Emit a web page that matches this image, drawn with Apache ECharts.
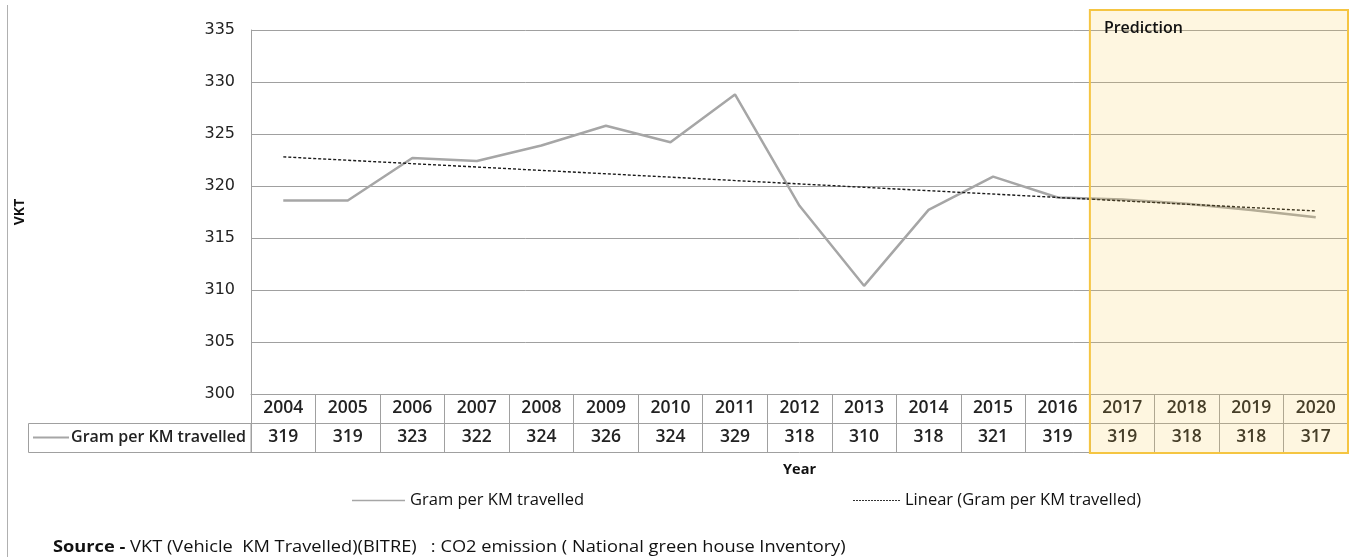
<!DOCTYPE html>
<html>
<head>
<meta charset="utf-8">
<script src="https://cdn.jsdelivr.net/npm/echarts@6/dist/echarts.min.js"></script>
<style>
  html, body { margin: 0; padding: 0; background: #fff; }
  #chart { width: 1354px; height: 557px; }
</style>
</head>
<body>
<div id="chart"></div>
<script>
// Grams of CO2 per vehicle kilometre travelled, 2004-2020 (2017 onwards predicted)
const years = ['2004', '2005', '2006', '2007', '2008', '2009', '2010', '2011', '2012',
               '2013', '2014', '2015', '2016', '2017', '2018', '2019', '2020'];
const gramPerKm = [318.6, 318.6, 322.7, 322.4, 323.9, 325.8, 324.2, 328.8, 318.1,
                   310.4, 317.7, 320.9, 318.9, 318.7, 318.3, 317.7, 317.0];
// Linear trend line end points (first and last year)
const trendYears = ['2004', '2020'];
const trendValues = [322.8, 317.6];
const predictionYears = ['2017', '2020'];
const yMin = 300, yMax = 335, yStep = 5;

const seriesName = 'Gram per KM travelled';
const trendName = 'Linear (Gram per KM travelled)';

const FONT = "'Open Sans', 'Noto Sans', sans-serif";
const GRID_COLOR = '#a0a0a0';
const LINE_COLOR = '#a6a6a6';

const GRID = { left: 251, right: 6, top: 30, bottom: 163 };
const ROW_H = 29;

// legend keys: a solid bar and a row of short dashes
const solidIcon = 'path://M0,0H40V1H0Z';
let dashPath = '';
for (let i = 0; i < 16; i++) dashPath += 'M' + (i * 3) + ',0h2v1h-2Z';
const dashedIcon = 'path://' + dashPath;

const chart = echarts.init(document.getElementById('chart'), null, { renderer: 'canvas' });

const cellLabel = {
  fontFamily: FONT, fontSize: 17.5, color: '#222', fontWeight: 600,
  verticalAlign: 'middle', margin: ROW_H / 2
};

chart.setOption({
  animation: false,
  backgroundColor: '#fff',
  grid: GRID,
  xAxis: [
    {
      type: 'category', data: years, position: 'bottom', boundaryGap: true,
      axisLine: { show: true, lineStyle: { color: GRID_COLOR, width: 1 } },
      axisTick: { show: true, inside: false, length: ROW_H * 2, lineStyle: { color: GRID_COLOR } },
      axisLabel: Object.assign({}, cellLabel)
    },
    {
      type: 'category', data: years, position: 'bottom', offset: ROW_H, boundaryGap: true,
      axisLine: { show: true, lineStyle: { color: GRID_COLOR, width: 1 } },
      axisTick: { show: false },
      axisLabel: Object.assign({}, cellLabel, {
        formatter: (v, i) => String(Math.round(gramPerKm[i]))
      })
    },
    {
      type: 'category', data: years, position: 'bottom', offset: ROW_H * 2, boundaryGap: true,
      axisLine: { show: true, lineStyle: { color: GRID_COLOR, width: 1 } },
      axisTick: { show: false },
      axisLabel: { show: false },
      name: 'Year', nameLocation: 'middle', nameGap: 10,
      nameTextStyle: { fontFamily: FONT, fontSize: 14.5, fontWeight: 'bold', color: '#111' }
    }
  ],
  yAxis: {
    type: 'value', min: yMin, max: yMax, interval: yStep,
    axisLine: { show: true, lineStyle: { color: GRID_COLOR } },
    axisTick: { show: false },
    splitLine: { show: true, lineStyle: { color: GRID_COLOR, width: 1 } },
    axisLabel: { fontFamily: "'DejaVu Sans', sans-serif", fontSize: 16, color: '#222', margin: 16 },
    name: 'VKT', nameLocation: 'middle', nameGap: 224, nameRotate: 90,
    nameTextStyle: { fontFamily: FONT, fontSize: 14, fontWeight: 'bold', color: '#111' }
  },
  legend: [
    {
      data: [{ name: seriesName, icon: solidIcon }], left: 352, top: 492, padding: 0,
      itemWidth: 53, itemHeight: 2, itemGap: 4,
      textStyle: { fontFamily: FONT, fontSize: 16.5, color: '#111', padding: [0, 0, 0, 0] }
    },
    {
      data: [{ name: trendName, icon: dashedIcon }], left: 853, top: 492, padding: 0,
      itemWidth: 47, itemHeight: 1.3, itemGap: 4,
      textStyle: { fontFamily: FONT, fontSize: 16.5, color: '#111', padding: [0, 0, 0, 0] }
    }
  ],
  series: [
    {
      name: seriesName, type: 'line', data: gramPerKm, symbol: 'none',
      lineStyle: { color: LINE_COLOR, width: 2.5 }, itemStyle: { color: LINE_COLOR },
      z: 3
    },
    {
      name: trendName, type: 'line', symbol: 'none',
      data: trendYears.map((y, i) => [y, trendValues[i]]),
      lineStyle: { color: '#1a1a1a', width: 1.4, type: [3, 2] }, itemStyle: { color: '#333' },
      z: 4
    }
  ]
});

// Decorations placed from the axis scale
const xOf = (cat) => chart.convertToPixel({ xAxisIndex: 0 }, cat);
const band = xOf(years[1]) - xOf(years[0]);
const tableTop = 557 - GRID.bottom;
const predLeft = xOf(predictionYears[0]) - band / 2;
const predRight = xOf(predictionYears[1]) + band / 2;

chart.setOption({
  graphic: [
    // outer frame edge
    { type: 'line', shape: { x1: 7.5, y1: 5, x2: 7.5, y2: 557 }, style: { stroke: '#b0b0b0', lineWidth: 1 }, silent: true },
    // legend key cell of the data table
    {
      type: 'rect', shape: { x: 28.5, y: tableTop + ROW_H + 0.5, width: GRID.left - 28.5, height: ROW_H },
      style: { fill: 'none', stroke: GRID_COLOR, lineWidth: 1 }, silent: true
    },
    {
      type: 'line', shape: { x1: 33, y1: tableTop + ROW_H * 1.5, x2: 69, y2: tableTop + ROW_H * 1.5 },
      style: { stroke: LINE_COLOR, lineWidth: 2 }, silent: true
    },
    {
      type: 'text', x: GRID.left - 5, y: tableTop + ROW_H * 1.5,
      style: { text: seriesName, fontFamily: FONT, fontSize: 16, fontWeight: 600, fill: '#222', align: 'right', verticalAlign: 'middle' },
      silent: true
    },
    // prediction block
    {
      type: 'rect', z: 100,
      shape: { x: predLeft, y: 10, width: predRight - predLeft, height: tableTop + ROW_H * 2 - 10 + 1 },
      style: { fill: 'rgba(247, 200, 70, 0.17)', stroke: '#f5c542', lineWidth: 2 }, silent: true
    },
    {
      type: 'text', z: 101, x: predLeft + 14, y: 28,
      style: { text: 'Prediction', fontFamily: FONT, fontSize: 16, fontWeight: 600, fill: '#111', verticalAlign: 'middle' },
      silent: true
    },
    // source note
    {
      type: 'text', x: 53, y: 547, scaleX: 1.14,
      style: {
        text: '{b|Source -} VKT (Vehicle  KM Travelled)(BITRE)   : CO2 emission ( National green house Inventory)',
        fontFamily: FONT, fontSize: 16, fill: '#111', verticalAlign: 'middle',
        rich: { b: { fontFamily: FONT, fontSize: 16, fontWeight: 'bold', fill: '#111' } }
      },
      silent: true
    }
  ]
});
</script>
</body>
</html>
